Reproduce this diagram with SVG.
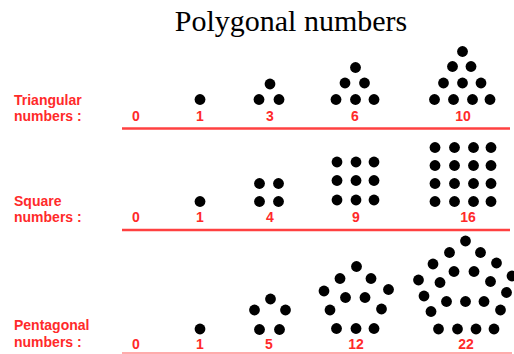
<svg xmlns="http://www.w3.org/2000/svg" width="514" height="354" viewBox="0 0 514 354">
<style>
.title{font-family:"Liberation Serif","Times New Roman",serif;font-size:30px;fill:#000}
.lbl{font-family:"Liberation Sans",Arial,sans-serif;font-size:14px;font-weight:bold;fill:#ff2a2a}
.num{font-family:"Liberation Sans",Arial,sans-serif;font-size:14px;font-weight:bold;fill:#ff2a2a;text-anchor:middle}
.rule{stroke:#ff4040;stroke-width:2.5}
.rule2{stroke:#ff9090;stroke-width:1.5}
circle{fill:#000}
</style>
<defs><circle id="d" r="5.4"/></defs>
<rect width="514" height="354" fill="#fff"/>
<text class="title" x="291" y="31" text-anchor="middle">Polygonal numbers</text>

<g id="triangular">
<text class="lbl" x="14" y="105">Triangular</text>
<text class="lbl" x="14" y="121">numbers :</text>
<line class="rule" x1="122" y1="128.5" x2="510" y2="128.5"/>
<text class="num" x="136" y="121">0</text>
<text class="num" x="200" y="121">1</text>
<text class="num" x="270" y="121">3</text>
<text class="num" x="355" y="121">6</text>
<text class="num" x="463" y="121">10</text>
<use href="#d" x="200" y="99.5"/>
<use href="#d" x="259" y="99.5"/><use href="#d" x="279" y="99.5"/><use href="#d" x="270" y="84"/>
<use href="#d" x="336" y="99.5"/><use href="#d" x="355.5" y="99.5"/><use href="#d" x="374" y="99.5"/>
<use href="#d" x="345" y="83"/><use href="#d" x="364.5" y="83"/><use href="#d" x="355.5" y="67.5"/>
<use href="#d" x="434.5" y="99.5"/><use href="#d" x="453.5" y="99.5"/><use href="#d" x="472.5" y="99.5"/><use href="#d" x="490" y="99.5"/>
<use href="#d" x="443.5" y="83"/><use href="#d" x="462.5" y="83"/><use href="#d" x="481" y="83"/>
<use href="#d" x="452.5" y="66.5"/><use href="#d" x="471" y="66.5"/>
<use href="#d" x="462.5" y="51.5"/>
</g>

<g id="square">
<text class="lbl" x="14" y="206">Square</text>
<text class="lbl" x="14" y="222">numbers :</text>
<line class="rule" x1="122" y1="230" x2="510" y2="230"/>
<text class="num" x="136" y="222">0</text>
<text class="num" x="200" y="222">1</text>
<text class="num" x="270" y="222">4</text>
<text class="num" x="356" y="222">9</text>
<text class="num" x="468" y="222">16</text>
<use href="#d" x="200" y="201.5"/>
<use href="#d" x="259.5" y="183.5"/><use href="#d" x="278.5" y="183.5"/>
<use href="#d" x="259.5" y="201.5"/><use href="#d" x="278.5" y="201.5"/>
<use href="#d" x="337" y="162"/><use href="#d" x="356" y="162"/><use href="#d" x="374" y="162"/>
<use href="#d" x="337" y="180.5"/><use href="#d" x="356" y="180.5"/><use href="#d" x="374" y="180.5"/>
<use href="#d" x="337" y="200"/><use href="#d" x="356" y="200"/><use href="#d" x="374" y="200"/>
<use href="#d" x="435" y="147.5"/><use href="#d" x="454.5" y="147.5"/><use href="#d" x="473.5" y="147.5"/><use href="#d" x="491" y="147.5"/>
<use href="#d" x="435" y="165.5"/><use href="#d" x="454.5" y="165.5"/><use href="#d" x="473.5" y="165.5"/><use href="#d" x="491" y="165.5"/>
<use href="#d" x="435" y="183.5"/><use href="#d" x="454.5" y="183.5"/><use href="#d" x="473.5" y="183.5"/><use href="#d" x="491" y="183.5"/>
<use href="#d" x="435" y="201.5"/><use href="#d" x="454.5" y="201.5"/><use href="#d" x="473.5" y="201.5"/><use href="#d" x="491" y="201.5"/>
</g>

<g id="pentagonal">
<text class="lbl" x="14" y="330">Pentagonal</text>
<text class="lbl" x="14" y="347">numbers :</text>
<line class="rule2" x1="122" y1="353" x2="512" y2="353"/>
<text class="num" x="136" y="349">0</text>
<text class="num" x="200" y="349">1</text>
<text class="num" x="269" y="349">5</text>
<text class="num" x="356" y="349">12</text>
<text class="num" x="466" y="349">22</text>
<use href="#d" x="200" y="329"/>
<use href="#d" x="270.5" y="299"/><use href="#d" x="254.5" y="310"/><use href="#d" x="285.5" y="310"/>
<use href="#d" x="259.5" y="329.5"/><use href="#d" x="279.5" y="329.5"/>
<use href="#d" x="356.5" y="266.5"/><use href="#d" x="340" y="278.5"/><use href="#d" x="371" y="278.5"/>
<use href="#d" x="324" y="291"/><use href="#d" x="388.5" y="289.5"/>
<use href="#d" x="345.5" y="297.5"/><use href="#d" x="365" y="297.5"/>
<use href="#d" x="330" y="310"/><use href="#d" x="381.5" y="309"/>
<use href="#d" x="336.5" y="328.5"/><use href="#d" x="356" y="328.5"/><use href="#d" x="374" y="328.5"/>
<use href="#d" x="465.5" y="241"/>
<use href="#d" x="449.5" y="252.5"/><use href="#d" x="480.5" y="252.5"/>
<use href="#d" x="433" y="264"/><use href="#d" x="496.5" y="263"/>
<use href="#d" x="418.5" y="280"/><use href="#d" x="512" y="276"/>
<use href="#d" x="424" y="296"/><use href="#d" x="506.5" y="292.5"/>
<use href="#d" x="431" y="311.5"/><use href="#d" x="500.5" y="310"/>
<use href="#d" x="438.5" y="329"/><use href="#d" x="457.5" y="329"/><use href="#d" x="476" y="329"/><use href="#d" x="494" y="329"/>
<use href="#d" x="454" y="271.5"/><use href="#d" x="474" y="271.5"/>
<use href="#d" x="440" y="282.5"/><use href="#d" x="490.5" y="281.5"/>
<use href="#d" x="446.5" y="301.5"/><use href="#d" x="465.5" y="301.5"/><use href="#d" x="484" y="301.5"/>
</g>
</svg>
